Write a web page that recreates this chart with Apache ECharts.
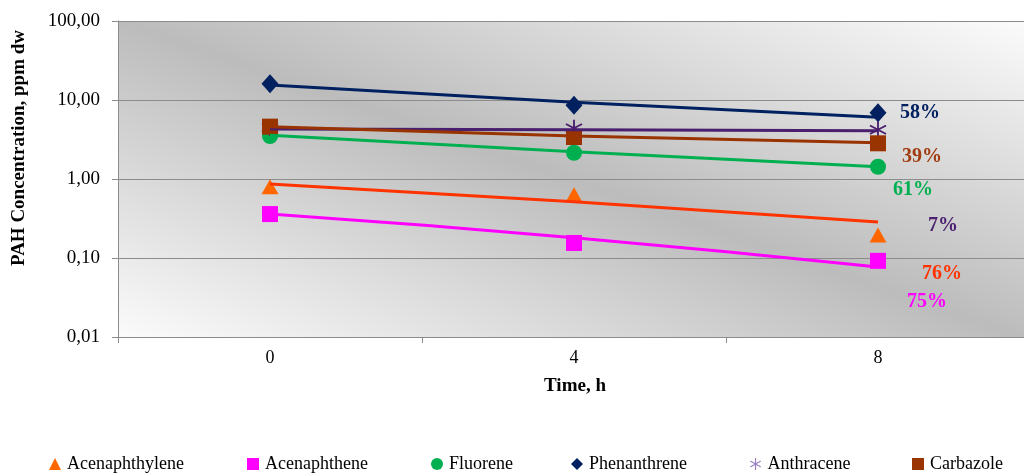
<!DOCTYPE html>
<html>
<head>
<meta charset="utf-8">
<script src="https://cdn.jsdelivr.net/npm/echarts@6/dist/echarts.min.js"></script>
<style>
html,body{margin:0;padding:0;background:#fff;}
#chart{width:1024px;height:473px;}
</style>
</head>
<body>
<div id="chart"></div>
<script>
// ---- data ----
var categories = ['0', '4', '8'];
var seriesNames = ['Acenaphthylene', 'Acenaphthene', 'Fluorene', 'Phenanthrene', 'Anthracene', 'Carbazole'];
// measured concentrations (markers)
var acenaphthylene = [0.80, 0.63, 0.195];
var acenaphthene   = [0.36, 0.155, 0.092];
var fluorene       = [3.5, 2.15, 1.43];
var phenanthrene   = [16.0, 8.6, 6.9];
var anthracene     = [4.5, 4.4, 4.2];
var carbazole      = [4.6, 3.4, 2.83];
// trend line values
var acenaphthyleneTrend = [0.865, 0.516, 0.286];
var acenaphtheneTrend   = [0.36, 0.181, 0.077];
var fluoreneTrend       = [3.57, 2.22, 1.43];
var phenanthreneTrend   = [15.5, 9.35, 6.04];
var anthraceneTrend     = [4.29, 4.2, 4.09];
var carbazoleTrend      = [4.59, 3.5, 2.88];
// reduction labels
var reductions = ['76%', '75%', '61%', '58%', '7%', '39%'];
var yTicks = [0.01, 0.1, 1, 10, 100];

var serif = 'Liberation Serif';
var starPath = 'path://M9 0L11 0L11 20L9 20Z M1.8 4.13L19.2 14.13L18.2 15.87L0.8 5.87Z M0.8 14.13L18.2 4.13L19.2 5.87L1.8 15.87Z';

var markerData = [acenaphthylene, acenaphthene, fluorene, phenanthrene, anthracene, carbazole];
var trendData = [acenaphthyleneTrend, acenaphtheneTrend, fluoreneTrend, phenanthreneTrend, anthraceneTrend, carbazoleTrend];
var markerColors = ['#ff6600', '#ff00ff', '#00b050', '#002060', '#4b1f6f', '#993300'];
var lineColors   = ['#ff3300', '#ff00ff', '#00b050', '#002060', '#4b1f6f', '#993300'];
var labelColors  = ['#ff3300', '#ff00ff', '#00b050', '#002060', '#4b1f6f', '#a03c10'];
var symbols = ['triangle', 'rect', 'circle', 'diamond', starPath, 'rect'];
var legendIcons = ['triangle', 'rect', 'circle', 'diamond', starPath, 'rect'];
var legendIconColors = ['#ff6600', '#ff00ff', '#00b050', '#002060', '#9a80c4', '#993300'];
var symbolSizes = [[17, 15], 16, 16, [17, 19], 17, 16];
var labelOffsets = [[64, 39], [49, 41], [35, 23], [42, 0], [65, 96], [44, 14]];
var legendLefts = [49, 247, 431, 571, 750, 912];

var series = [];
seriesNames.forEach(function (name, i) {
  series.push({
    name: name,
    type: 'scatter',
    data: markerData[i],
    symbol: symbols[i],
    symbolSize: symbolSizes[i],
    itemStyle: { color: markerColors[i], opacity: 1 },
    label: {
      show: true,
      position: 'inside',
      offset: labelOffsets[i],
      formatter: function (p) { return p.dataIndex === 2 ? reductions[i] : ''; },
      color: labelColors[i],
      fontFamily: serif,
      fontWeight: 'bold',
      fontSize: 20
    },
    emphasis: { disabled: true },
    z: 2
  });
});
seriesNames.forEach(function (name, i) {
  series.push({
    name: name,
    type: 'line',
    data: trendData[i],
    smooth: true,
    showSymbol: false,
    symbol: 'none',
    lineStyle: { color: lineColors[i], width: 3 },
    itemStyle: { color: lineColors[i] },
    emphasis: { disabled: true },
    z: 3
  });
});

var legends = seriesNames.map(function (n, i) {
  return {
    data: [{ name: n, icon: legendIcons[i], itemStyle: { color: legendIconColors[i] } }],
    left: legendLefts[i],
    top: 455,
    itemWidth: 12,
    itemHeight: 12,
    itemGap: 0,
    padding: 0,
    textStyle: { fontFamily: serif, fontSize: 18, color: '#000', padding: [0, 0, 0, 1] },
    selectedMode: false
  };
});

var chart = echarts.init(document.getElementById('chart'), null, { renderer: 'canvas' });
chart.setOption({
  animation: false,
  backgroundColor: '#ffffff',
  grid: {
    left: 118, top: 21, width: 912, height: 316,
    outerBoundsMode: 'none',
    containLabel: false,
    show: true, borderWidth: 0,
    backgroundColor: new echarts.graphic.LinearGradient(0, 1, 0.2166, -0.7835, [
      { offset: 0, color: '#fbfbfb' },
      { offset: 0.5, color: '#bcbcbc' },
      { offset: 1, color: '#fbfbfb' }
    ])
  },
  xAxis: {
    type: 'category',
    data: categories,
    boundaryGap: true,
    axisLine: { lineStyle: { color: '#8c8c8c', width: 1 } },
    axisTick: { show: true, length: 6, lineStyle: { color: '#8c8c8c' } },
    axisLabel: { color: '#000', fontFamily: serif, fontSize: 18, margin: 12 },
    splitLine: { show: false }
  },
  yAxis: {
    type: 'log',
    logBase: 10,
    min: yTicks[0],
    max: yTicks[yTicks.length - 1],
    axisLine: { show: true, lineStyle: { color: '#8c8c8c', width: 1 } },
    axisTick: { show: true, length: 6, lineStyle: { color: '#8c8c8c' } },
    axisLabel: {
      color: '#000', fontFamily: serif, fontSize: 19, margin: 18,
      formatter: function (v) { return Number(v).toFixed(2).replace('.', ','); }
    },
    splitLine: { show: true, lineStyle: { color: '#8c8c8c', width: 1 } }
  },
  legend: legends,
  graphic: [
    {
      type: 'text',
      x: 19, y: 148,
      rotation: Math.PI / 2,
      style: {
        text: 'PAH Concentration, ppm dw',
        font: 'bold 19px "Liberation Serif"',
        fill: '#000',
        align: 'center',
        verticalAlign: 'middle'
      }
    },
    {
      type: 'text',
      x: 575, y: 386,
      style: {
        text: 'Time, h',
        font: 'bold 19px "Liberation Serif"',
        fill: '#000',
        align: 'center',
        verticalAlign: 'middle'
      }
    }
  ],
  series: series
});
</script>
</body>
</html>
